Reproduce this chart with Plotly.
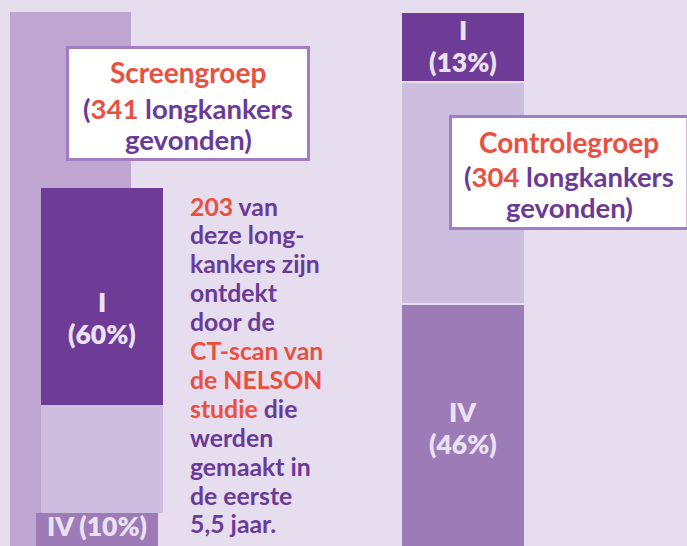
import plotly.graph_objects as go

# ---------------- data ----------------
screen_total = 341          # lung cancers found, screening group
screen_detected = 203       # detected by the NELSON CT-scan
screen_stage_labels = ["I", "", "IV"]
screen_stage_pct = [60, 30, 10]

control_total = 304         # lung cancers found, control group
control_stage_labels = ["I", "", "IV"]
control_stage_pct = [13, 41, 46]

# ---------------- style / layout ----------------
W, H = 687, 546
BG = "#E6DEEE"
TALL = "#BEA6D0"
SEG_COLORS = ["#6E3C97", "#CDBDDF", "#9C7BB7"]
RED = "#E8503F"
PURPLE = "#6A3A98"
LABEL = "#EAE2F2"
FONT = "Lato"

PX_PER_COUNT = 1.78
TOP_PX = 12


def cnt(px):
    """pixel distance -> count units on the y axis"""
    return px / PX_PER_COUNT


def px_x(x):
    return x / W


def px_y(y):
    return 1 - y / H


fig = go.Figure()

# tall background bar: all screen group cancers
fig.add_trace(go.Bar(x=[70.5], y=[screen_total], base=[0], width=[121],
                     marker=dict(color=TALL, line=dict(width=0)),
                     hoverinfo="skip", showlegend=False))


def bar_label(xc, ymid, lab, pct, size, shift=0, one_line=False):
    f = dict(family=FONT, size=size, color=LABEL, weight=800)
    if one_line:
        fig.add_annotation(x=xc, y=ymid, xref="x", yref="y", text=f"{lab} ({pct}%)",
                           showarrow=False, font=f, yshift=shift)
    else:
        fig.add_annotation(x=xc, y=ymid, xref="x", yref="y", text=lab,
                           showarrow=False, font=f, yshift=shift + 16)
        fig.add_annotation(x=xc, y=ymid, xref="x", yref="y", text=f"({pct}%)",
                           showarrow=False, font=f, yshift=shift - 16)


# screen group stacked stage bar (of the detected cancers)
stack_base = cnt(188 - TOP_PX)
seg_x = [102, 102, 97]
label_shift = [-22, 0, 5]
b = stack_base
for lab, pct, col, xc, sh in zip(screen_stage_labels, screen_stage_pct, SEG_COLORS,
                                 seg_x, label_shift):
    h = screen_detected * pct / 100
    fig.add_trace(go.Bar(x=[xc], y=[h], base=[b], width=[122],
                         marker=dict(color=col, line=dict(width=0)),
                         hoverinfo="skip", showlegend=False))
    if lab:
        bar_label(xc, b + h / 2, lab, pct, 26.5, shift=sh, one_line=(lab == "IV"))
    b += h

# control group stacked stage bar
b = 0
for lab, pct, col in zip(control_stage_labels, control_stage_pct, SEG_COLORS):
    h = control_total * pct / 100
    fig.add_trace(go.Bar(x=[463], y=[h], base=[b], width=[124],
                         marker=dict(color=col, line=dict(width=2, color=BG)),
                         hoverinfo="skip", showlegend=False))
    if lab:
        bar_label(463, b + h / 2, lab, pct, 26.5, shift=1)
    b += h

# ---------------- boxes ----------------
def box(x0, y0, x1, y1):
    fig.add_shape(type="rect", xref="paper", yref="paper",
                  x0=px_x(x0), x1=px_x(x1), y0=px_y(y1), y1=px_y(y0),
                  fillcolor="white", line=dict(color="#A27DC2", width=3), layer="above")

box(67.5, 47.5, 308.5, 159.5)
box(450.5, 116.5, 688, 228.5)


def ann(x, y, text, size, xanchor="center"):
    fig.add_annotation(xref="paper", yref="paper", x=px_x(x), y=px_y(y),
                       xanchor=xanchor, yanchor="middle", align="left",
                       text=text, showarrow=False,
                       font=dict(family=FONT, size=size, color=PURPLE, weight="bold"))


r = lambda s: f'<span style="color:{RED}">{s}</span>'

ann(188, 72, r("Screengroep"), 28)
ann(188, 109, f"({r(screen_total)} longkankers", 27.5)
ann(188, 139, "gevonden)", 27.5)
ann(569, 142, r("Controlegroep"), 28)
ann(569, 177, f"({r(control_total)} longkankers", 27.5)
ann(569, 207, "gevonden)", 27.5)

mid_lines = [f"{r(screen_detected)} van", "deze long-", "kankers zijn", "ontdekt", "door de",
             r("CT-scan van"), r("de NELSON"), f"{r('studie')} die", "werden",
             "gemaakt in", "de eerste", "5,5 jaar."]
for i, line in enumerate(mid_lines):
    ann(188, 206 + i * 28.9, line, 24.8, xanchor="left")

fig.update_layout(
    width=W, height=H, margin=dict(l=0, r=0, t=0, b=0),
    paper_bgcolor=BG, plot_bgcolor=BG, barmode="overlay", bargap=0,
    xaxis=dict(range=[0, W], visible=False, fixedrange=True),
    yaxis=dict(range=[cnt(H - TOP_PX), cnt(-TOP_PX)], visible=False, fixedrange=True),
    showlegend=False,
)

fig.write_html("out.html", config={"displayModeBar": False},
               post_script="document.body.style.margin='0';"
                           "document.body.style.background='" + BG + "';")
